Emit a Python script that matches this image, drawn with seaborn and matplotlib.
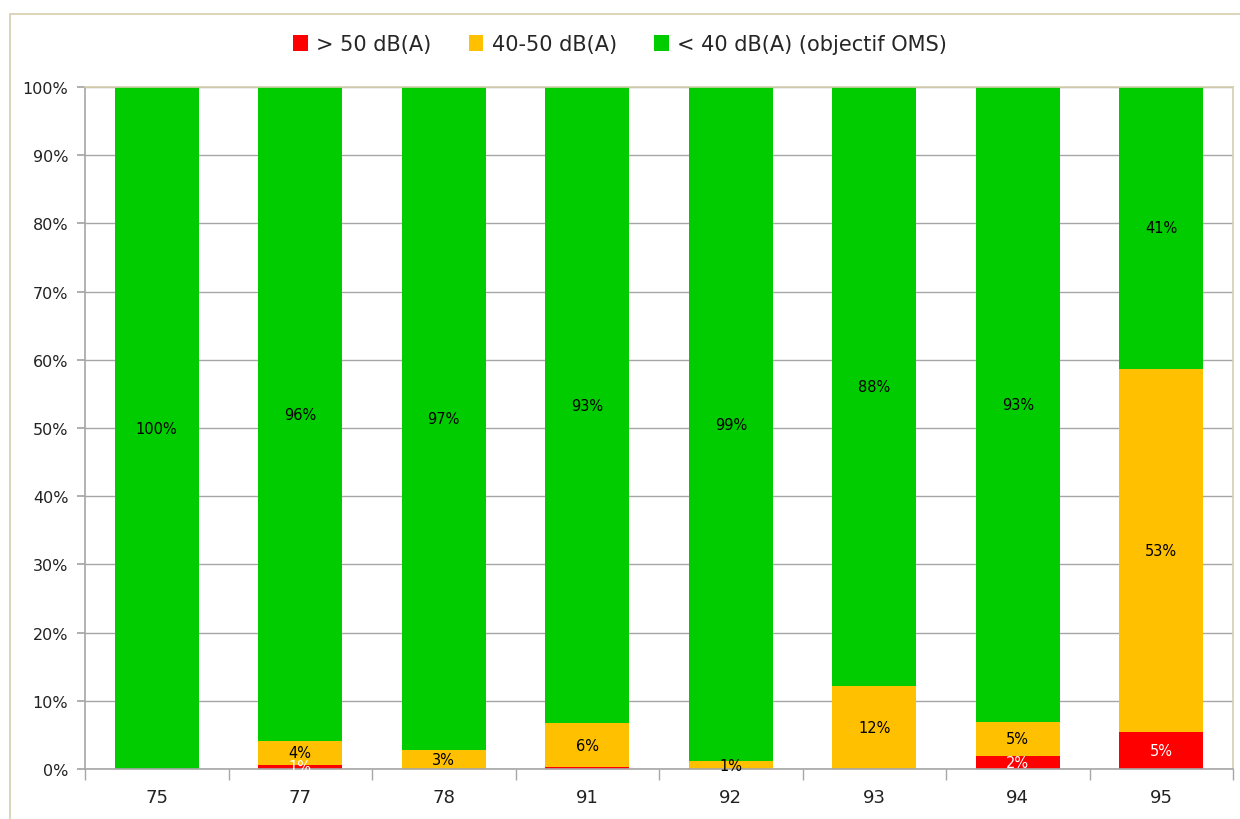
import matplotlib

matplotlib.use("Agg")
import matplotlib.pyplot as plt
import pandas as pd
import seaborn as sns
from matplotlib.patches import Patch, Rectangle

# Share of population per noise band, by département (%)
departements = ["75", "77", "78", "91", "92", "93", "94", "95"]
above_50 = [0.0, 0.6, 0.0, 0.3, 0.0, 0.0, 1.9, 5.4]
between_40_50 = [0.0, 3.5, 2.8, 6.4, 1.1, 12.1, 5.0, 53.3]
below_40 = [100.0, 95.9, 97.2, 93.3, 98.9, 87.9, 93.1, 41.3]

series_names = ["> 50 dB(A)", "40-50 dB(A)", "< 40 dB(A) (objectif OMS)"]
series_colors = ["#ff0000", "#ffc000", "#00cc00"]
label_colors = ["white", "black", "black"]


def main() -> None:
    sns.set_theme(style="white")
    plt.rcParams["font.family"] = ["DejaVu Sans"]

    df = pd.DataFrame(
        {
            "dep": departements,
            "red": above_50,
            "orange": between_40_50,
            "green": below_40,
        }
    )
    df["cum_red"] = df["red"]
    df["cum_orange"] = df["red"] + df["orange"]
    df["cum_green"] = df["cum_orange"] + df["green"]

    fig = plt.figure(figsize=(12.4, 8.2), dpi=100)
    ax = fig.add_axes([85 / 1240, 50 / 820, 1148 / 1240, 682 / 820])

    # outer chart frame
    fig.patches.append(
        Rectangle(
            (10 / 1240, -0.01), 1.2, (820 - 15) / 820 + 0.01,
            transform=fig.transFigure, fill=False, edgecolor="#d6cfae", linewidth=1.2,
        )
    )

    ax.set_axisbelow(True)
    ax.yaxis.grid(True, color="#a6a6a6", linewidth=1.0)
    ax.xaxis.grid(False)

    # stacked bars drawn as overlapping cumulative bars
    for col, color in zip(["cum_green", "cum_orange", "cum_red"], series_colors[::-1]):
        sns.barplot(
            data=df, x="dep", y=col, order=departements, color=color,
            saturation=1, width=0.585, ax=ax, linewidth=0,
        )

    # segment labels
    for i, row in df.iterrows():
        base = 0.0
        for val, tcolor in zip([row["red"], row["orange"], row["green"]], label_colors):
            if val >= 0.5:
                ax.text(
                    i, base + val / 2, f"{int(val + 0.5)}%",
                    ha="center", va="center", fontsize=10.5, color=tcolor,
                )
            base += val

    ax.set_ylim(0, 100)
    ax.set_xlim(-0.5, len(departements) - 0.5)
    ax.set_yticks(range(0, 101, 10))
    ax.set_yticklabels([f"{v}%" for v in range(0, 101, 10)], fontsize=11.5, color="#222222")
    ax.set_xticks(range(len(departements)))
    ax.set_xticklabels(departements, fontsize=13, color="#222222")
    ax.set_xticks([x - 0.5 for x in range(len(departements) + 1)], minor=True)
    ax.tick_params(axis="x", which="major", length=0, pad=14)
    ax.tick_params(axis="x", which="minor", length=8, color="#a6a6a6", direction="out", bottom=True)
    ax.tick_params(axis="y", length=6, color="#a6a6a6", direction="out", left=True, pad=6)
    ax.set_xlabel("")
    ax.set_ylabel("")

    for side in ["left", "bottom"]:
        ax.spines[side].set_color("#a6a6a6")
        ax.spines[side].set_linewidth(1.2)
    for side in ["top", "right"]:
        ax.spines[side].set_visible(True)
        ax.spines[side].set_color("#d6cfae")
        ax.spines[side].set_linewidth(1.2)

    handles = [Patch(facecolor=c, edgecolor="none") for c in series_colors]
    fig.legend(
        handles, series_names, loc="center", bbox_to_anchor=(0.5, 1 - 45 / 820),
        ncol=3, frameon=False, fontsize=15, handlelength=0.7, handleheight=0.8,
        handletextpad=0.4, columnspacing=1.8,
    )

    fig.savefig("out.png", dpi=100)
    plt.close(fig)


if __name__ == "__main__":
    main()
